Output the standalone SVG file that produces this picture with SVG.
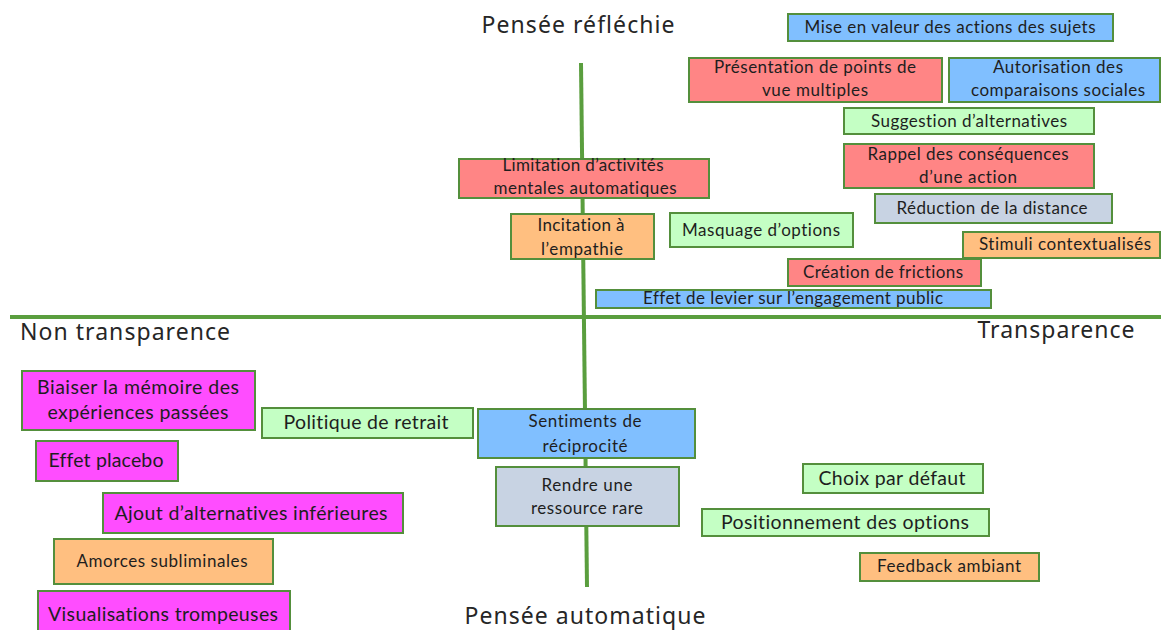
<svg xmlns="http://www.w3.org/2000/svg" width="1161" height="630" viewBox="0 0 1161 630">
<style>
.b{stroke:#548f3c;stroke-width:2}
.blue{fill:#80bfff}.red{fill:#ff8585}.green{fill:#c4ffc4}.orange{fill:#ffbf80}.mag{fill:#ff4dff}.gray{fill:#c8d3e3}
text{font-family:Lato,"Noto Sans",sans-serif;fill:#1e1e1e;text-anchor:middle;font-variant-ligatures:none}
.ax{font-family:"Noto Sans","Open Sans",sans-serif;font-size:23px;fill:#262626}
.s16{font-size:17px}.s18{font-size:19.5px}.s15{font-size:17px}
</style>
<rect width="1161" height="630" fill="#fff"/>
<g id="axes" stroke="#5a9e3e" stroke-width="4" fill="none">
<line x1="581" y1="63" x2="587" y2="587"/>
<line x1="10" y1="317" x2="1161" y2="317"/>
</g>
<g id="labels">
<text class="ax" x="578" y="33" textLength="193">Pensée réfléchie</text>
<text class="ax" x="585" y="624" textLength="241">Pensée automatique</text>
<text class="ax" x="125" y="340" textLength="210">Non transparence</text>
<text class="ax" x="1056" y="338" textLength="157">Transparence</text>
</g>
<g id="n1"><rect class="b blue" x="788" y="14" width="325" height="27"/><text class="s16" x="950" y="33" textLength="291">Mise en valeur des actions des sujets</text></g>
<g id="n2"><rect class="b red" x="689" y="58" width="253" height="44"/><text class="s16" x="815" y="73" textLength="202">Présentation de points de</text><text class="s16" x="815" y="96" textLength="106">vue multiples</text></g>
<g id="n3"><rect class="b blue" x="949" y="58" width="211" height="44"/><text class="s16" x="1058" y="73" textLength="130">Autorisation des</text><text class="s16" x="1058" y="96" textLength="174">comparaisons sociales</text></g>
<g id="n4"><rect class="b green" x="844" y="108" width="250" height="26"/><text class="s16" x="969" y="127" textLength="196">Suggestion d’alternatives</text></g>
<g id="n5"><rect class="b red" x="844" y="144" width="250" height="44"/><text class="s16" x="968" y="160" textLength="201">Rappel des conséquences</text><text class="s16" x="968" y="183" textLength="98">d’une action</text></g>
<g id="n6"><rect class="b gray" x="875" y="194" width="237" height="29"/><text class="s16" x="992" y="214" textLength="191">Réduction de la distance</text></g>
<g id="n7"><rect class="b orange" x="963" y="232" width="197" height="26"/><text class="s16" x="1065" y="250" textLength="172">Stimuli contextualisés</text></g>
<g id="n8"><rect class="b red" x="788" y="259" width="193" height="27"/><text class="s16" x="883" y="278" textLength="160">Création de frictions</text></g>
<g id="n9"><rect class="b blue" x="596" y="290" width="395" height="18"/><text class="s15" x="793" y="304" textLength="300">Effet de levier sur l’engagement public</text></g>
<g id="n10"><rect class="b red" x="459" y="159" width="250" height="39"/><text class="s16" x="583" y="171" textLength="161">Limitation d’activités</text><text class="s16" x="585" y="194" textLength="183">mentales automatiques</text></g>
<g id="n11"><rect class="b orange" x="511" y="214" width="143" height="45"/><text class="s16" x="581" y="231" textLength="87">Incitation à</text><text class="s16" x="582" y="255" textLength="82">l’empathie</text></g>
<g id="n12"><rect class="b green" x="670" y="213" width="183" height="34"/><text class="s16" x="761" y="236" textLength="158">Masquage d’options</text></g>
<g id="n13"><rect class="b mag" x="22" y="371" width="233" height="59"/><text class="s18" x="138" y="394" textLength="202">Biaiser la mémoire des</text><text class="s18" x="138" y="419" textLength="181">expériences passées</text></g>
<g id="n14"><rect class="b green" x="262" y="408" width="211" height="30"/><text class="s18" x="366" y="429" textLength="165">Politique de retrait</text></g>
<g id="n15"><rect class="b mag" x="36" y="441" width="142" height="40"/><text class="s18" x="106" y="467" textLength="115">Effet placebo</text></g>
<g id="n16"><rect class="b mag" x="103" y="493" width="300" height="40"/><text class="s18" x="251" y="520" textLength="273">Ajout d’alternatives inférieures</text></g>
<g id="n17"><rect class="b orange" x="54" y="539" width="219" height="45"/><text class="s15" x="162" y="567" textLength="171">Amorces subliminales</text></g>
<g id="n18"><rect class="b mag" x="38" y="591" width="252" height="45"/><text class="s18" x="163" y="621" textLength="230">Visualisations trompeuses</text></g>
<g id="n19"><rect class="b blue" x="478" y="409" width="217" height="49"/><text class="s16" x="585" y="427" textLength="113">Sentiments de</text><text class="s16" x="585" y="452" textLength="85">réciprocité</text></g>
<g id="n20"><rect class="b gray" x="496" y="467" width="183" height="59"/><text class="s16" x="587" y="491" textLength="91">Rendre une</text><text class="s16" x="587" y="514" textLength="112">ressource rare</text></g>
<g id="n21"><rect class="b green" x="803" y="464" width="180" height="29"/><text class="s18" x="892" y="485" textLength="147">Choix par défaut</text></g>
<g id="n22"><rect class="b green" x="702" y="509" width="287" height="27"/><text class="s18" x="845" y="529" textLength="248">Positionnement des options</text></g>
<g id="n23"><rect class="b orange" x="860" y="553" width="179" height="28"/><text class="s15" x="949" y="572" textLength="144">Feedback ambiant</text></g>
</svg>
